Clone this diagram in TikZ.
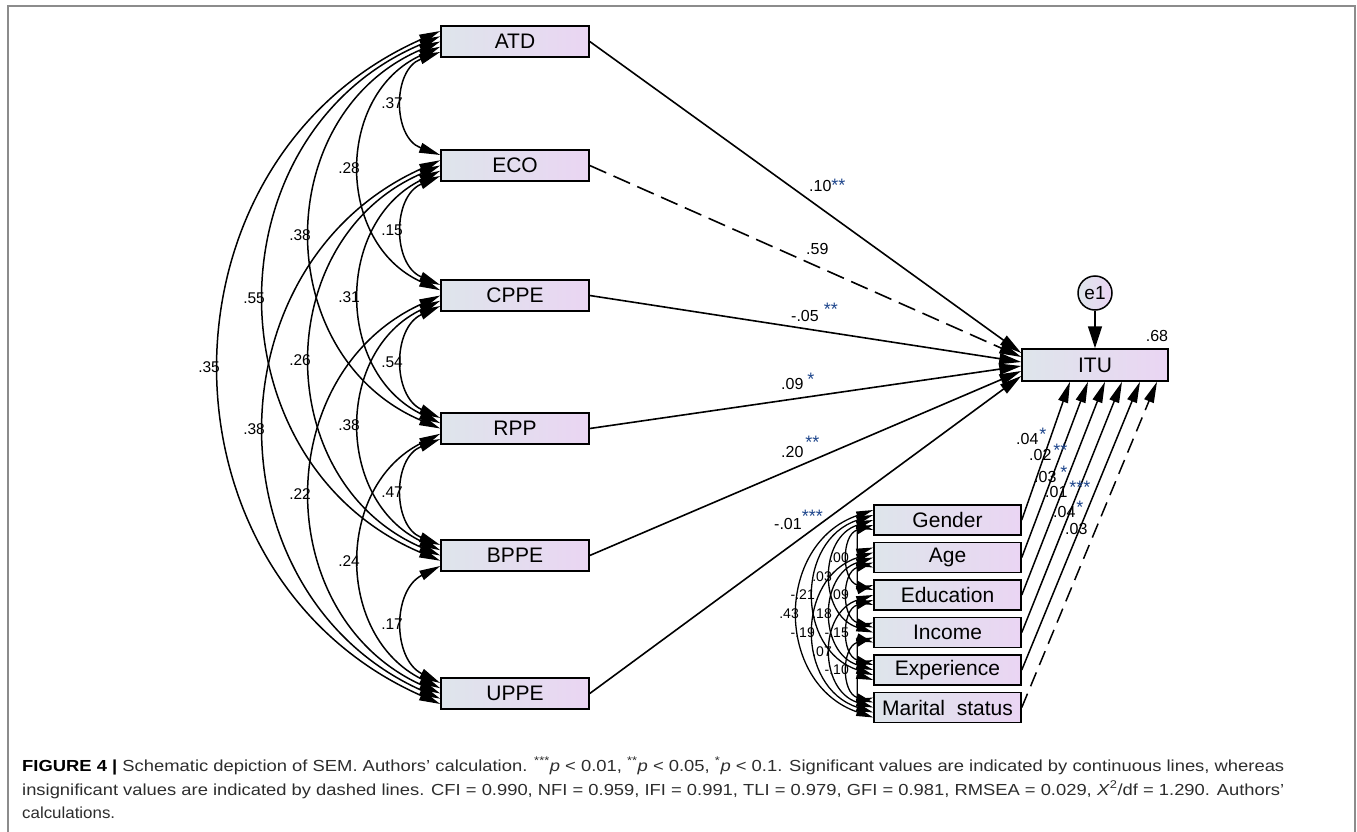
\documentclass[tikz,border=0pt]{standalone}
\usepackage{fontspec}
\usepackage{graphicx}
\setmainfont{Liberation Sans}
\usetikzlibrary{arrows.meta,calc}
\definecolor{boxL}{RGB}{222,229,235}
\definecolor{boxR}{RGB}{234,213,243}
\definecolor{starc}{RGB}{30,70,140}
\definecolor{framec}{RGB}{140,140,140}
\definecolor{capc}{RGB}{45,45,45}
\newcommand{\sig}[3]{\hspace{#1pt}\raisebox{#2pt}{\fontsize{18}{18}\selectfont\color{starc}#3}}
\tikzset{
  var/.style={draw=black, line width=1.5pt, left color=boxL, right color=boxR,
    minimum width=148pt, minimum height=31pt, inner sep=0pt, font=\fontsize{21}{23}\selectfont},
  cvar/.style={var, minimum width=147pt, minimum height=30pt},
  lbl/.style={inner sep=0pt, font=\fontsize{16}{17}\selectfont},
  clbl/.style={inner sep=0pt, font=\fontsize{15.5}{16}\selectfont},
  sclbl/.style={inner sep=0pt, font=\fontsize{14}{15}\selectfont},
  regpath/.style={line width=1.6pt, -{Triangle[length=22pt,width=11pt]}},
  cpath/.style={line width=1.5pt, -{Triangle[length=21pt,width=10pt]}},
  cov/.style={line width=1.5pt, {Triangle[length=21pt,width=10pt]}-{Triangle[length=21pt,width=10pt]}},
  ccov/.style={line width=1.3pt, {Triangle[length=17pt,width=8pt]}-{Triangle[length=17pt,width=8pt]}},
  captext/.style={inner sep=0pt, text=capc, font=\fontsize{16}{18}\selectfont},
}
\begin{document}
\begin{tikzpicture}[x=1pt,y=-1pt]
\useasboundingbox (0,0) rectangle (1357,832);
\fill[white] (0,0) rectangle (1357,832);
\draw[framec, line width=2pt] (7.5,850) -- (7.5,6.5) -- (1354.5,6.5) -- (1354.5,850);

% exogenous variables
\node[var] (L1) at (515,41.5) {ATD};
\node[var] (L2) at (515,165.5) {ECO};
\node[var] (L3) at (515,295.5) {CPPE};
\node[var] (L4) at (515,428.5) {RPP};
\node[var] (L5) at (515,555.5) {BPPE};
\node[var] (L6) at (515,693.5) {UPPE};

% outcome
\node[var, minimum width=146pt, minimum height=32pt] (ITU) at (1095,365) {ITU};
\node[circle, draw=black, line width=1.5pt, left color=boxL, right color=boxR,
  minimum size=34pt, inner sep=0pt, font=\fontsize{19}{21}\selectfont] (e1) at (1095,293) {e1};
\draw[line width=1.5pt, -{Triangle[length=22pt,width=14pt]}] (e1) -- (ITU);
\node[lbl] (r2) at (1157,336) {.68};

% control variables
\node[cvar] (C1) at (947.5,520) {Gender};
\node[cvar] (C2) at (947.5,557.5) {Age};
\node[cvar] (C3) at (947.5,595) {Education};
\node[cvar] (C4) at (947.5,632.5) {Income};
\node[cvar] (C5) at (947.5,670) {Experience};
\node[cvar] (C6) at (947.5,707.5) {Marital\ \ status};

% covariances among exogenous variables
\foreach \i/\j/\lab in {1/2/.37, 2/3/.15, 3/4/.54, 4/5/.47, 5/6/.17,
                        1/3/.28, 2/4/.31, 3/5/.38, 4/6/.24,
                        1/4/.38, 2/5/.26, 3/6/.22,
                        1/5/.55, 2/6/.38, 1/6/.35}{
  \pgfmathsetmacro\k{int(\j-\i)}
  \pgfmathsetmacro\s{{0,36,79,128,174,219}[\k]}
  \pgfmathsetmacro\oa{((6-\j+\i)-3)*5.25}
  \pgfmathsetmacro\ob{((\j-\i)-3)*5.25}
  \pgfmathsetmacro\ya{{41.5,165.5,295.5,428.5,555.5,693.5}[\i-1]+\oa}
  \pgfmathsetmacro\yb{{41.5,165.5,295.5,428.5,555.5,693.5}[\j-1]+\ob}
  \pgfmathsetmacro\L{\yb-\ya}
  \pgfmathsetmacro\dx{-4*\s/3}
  \pgfmathsetmacro\dy{\L/3-4*\s*(\s/\L)/3}
  \pgfmathsetmacro\ndy{-\dy}
  \pgfmathsetmacro\ua{-\oa}
  \pgfmathsetmacro\ub{-\ob}
  \pgfmathsetmacro\my{(\ya+\yb)/2}
  \pgfmathsetmacro\lx{441-\s-2}
  \draw[cov] ([yshift=\ua pt]L\i.west) .. controls +(\dx,\dy) and +(\dx,\ndy) .. ([yshift=\ub pt]L\j.west);
  \node[clbl, anchor=east] (cl\i\j) at (\lx,\my) {\lab};
}

% covariances among control variables
\foreach \i/\j in {1/2,2/3,3/4,4/5,5/6,1/3,2/4,3/5,4/6,1/4,2/5,3/6,1/5,2/6,1/6}{
  \pgfmathsetmacro\k{int(\j-\i)}
  \pgfmathsetmacro\s{{0,12,24,41,58,74}[\k]}
  \pgfmathsetmacro\oa{((6-\j+\i)-3)*5}
  \pgfmathsetmacro\ob{((\j-\i)-3)*5}
  \pgfmathsetmacro\ya{520+37.5*(\i-1)+\oa}
  \pgfmathsetmacro\yb{520+37.5*(\j-1)+\ob}
  \pgfmathsetmacro\L{\yb-\ya}
  \pgfmathsetmacro\dx{-4*\s/3}
  \pgfmathsetmacro\dy{\L/3-4*\s*(\s/\L)/3}
  \pgfmathsetmacro\ndy{-\dy}
  \pgfmathsetmacro\ua{-\oa}
  \pgfmathsetmacro\ub{-\ob}
  \draw[ccov] ([yshift=\ua pt]C\i.west) .. controls +(\dx,\dy) and +(\dx,\ndy) .. ([yshift=\ub pt]C\j.west);
}
\node[sclbl, anchor=east] (k13) at (849,557.5) {.00};
\node[sclbl, anchor=east] (k24) at (849,595) {.09};
\node[sclbl, anchor=east] (k35) at (849,632.5) {-.15};
\node[sclbl, anchor=east] (k46) at (849,670) {-.10};
\node[sclbl, anchor=east] (k14) at (832,576.25) {.03};
\node[sclbl, anchor=east] (k25) at (832,613.75) {.18};
\node[sclbl, anchor=east] (k36) at (832,651.25) {.07};
\node[sclbl, anchor=east] (k15) at (815,595) {-.21};
\node[sclbl, anchor=east] (k26) at (815,632.5) {-.19};
\node[sclbl, anchor=east] (k16) at (799,613.75) {.43};

% regression paths to ITU
\draw[regpath] (L1.east) -- ([yshift=12pt]ITU.west);
\draw[regpath, dash pattern=on 18pt off 8pt] (L2.east) -- ([yshift=8pt]ITU.west);
\draw[regpath] (L3.east) -- ([yshift=3pt]ITU.west);
\draw[regpath] (L4.east) -- ([yshift=-1pt]ITU.west);
\draw[regpath] (L5.east) -- ([yshift=-6pt]ITU.west);
\draw[regpath] (L6.east) -- ([yshift=-11pt]ITU.west);

\node[lbl, anchor=base west] (p1) at (809,191) {.10\sig{0}{0}{**}};
\node[lbl, anchor=base west] (p2) at (806,254) {.59};
\node[lbl, anchor=base west] (p3) at (791,321) {-.05\sig{5}{5.5}{**}};
\node[lbl, anchor=base west] (p4) at (781,389) {.09\sig{4}{3.5}{*}};
\node[lbl, anchor=base west] (p5) at (781,457) {.20\sig{2}{8.5}{**}};
\node[lbl, anchor=base west] (p6) at (774,529) {-.01\sig{0}{6.5}{***}};

% control paths to ITU
\draw[cpath] (C1.east) -- ([xshift=-25pt]ITU.south);
\draw[cpath] (C2.east) -- ([xshift=-7pt]ITU.south);
\draw[cpath] (C3.east) -- ([xshift=10pt]ITU.south);
\draw[cpath] (C4.east) -- ([xshift=27pt]ITU.south);
\draw[cpath] (C5.east) -- ([xshift=45pt]ITU.south);
\draw[cpath, dash pattern=on 15pt off 8pt] (C6.east) -- ([xshift=62pt]ITU.south);

\node[lbl, anchor=base west] (q1) at (1016,444) {.04\sig{1}{4}{*}};
\node[lbl, anchor=base west] (q2) at (1029,460) {.02\sig{2}{4}{**}};
\node[lbl, anchor=base west] (q3) at (1034,482) {.03\sig{4}{4}{*}};
\node[lbl, anchor=base west] (q4) at (1045,497) {.01\sig{2}{4}{***}};
\node[lbl, anchor=base west] (q5) at (1053,517) {.04\sig{1}{4}{*}};
\node[lbl, anchor=base west] (q6) at (1065,534) {.03};

% caption
\node[captext, anchor=base west] (cap1) at (22,771) {\resizebox{1262pt}{\height}{{\bfseries\color{black}FIGURE 4 |} Schematic depiction of SEM. Authors’ calculation. \textsuperscript{***}\textit{p} < 0.01, \textsuperscript{**}\textit{p} < 0.05, \textsuperscript{*}\textit{p} < 0.1. Significant values are indicated by continuous lines, whereas}};
\node[captext, anchor=base west] (cap2) at (22,795) {\resizebox{1262pt}{\height}{insignificant values are indicated by dashed lines. CFI = 0.990, NFI = 0.959, IFI = 0.991, TLI = 0.979, GFI = 0.981, RMSEA = 0.029, \textit{X}\textsuperscript{2}/df = 1.290. Authors’}};
\node[captext, anchor=base west] (cap3) at (22,818) {\resizebox{93pt}{\height}{calculations.}};
\end{tikzpicture}
\end{document}
